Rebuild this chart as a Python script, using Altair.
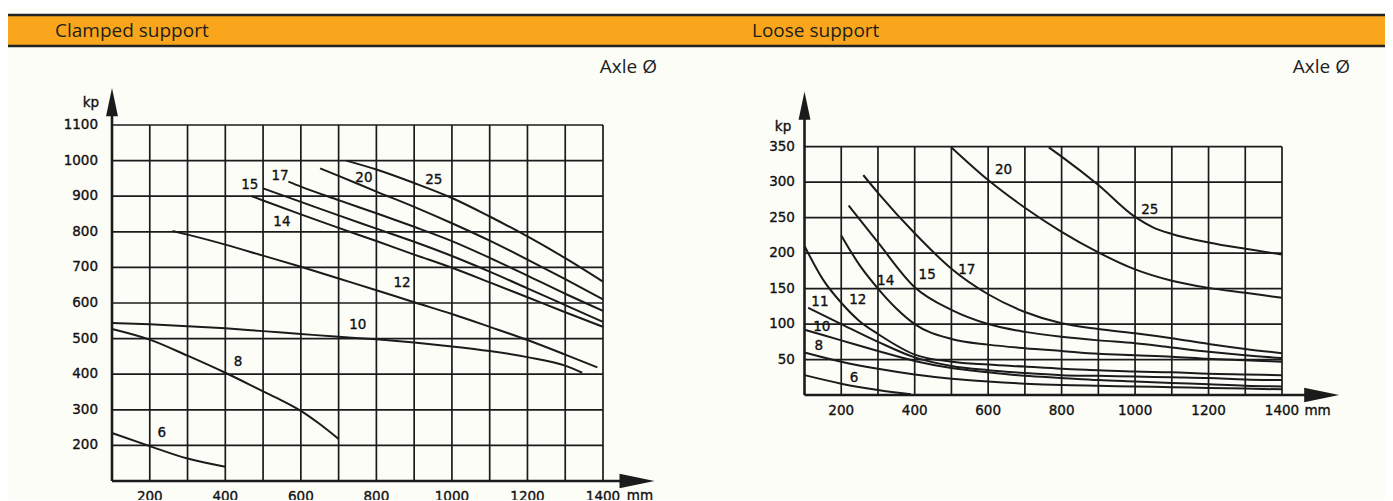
import altair as alt
import pandas as pd

INK = "#1b1b1b"
ORANGE = "#f9a61c"
BG = "#fdfdf8"
TICK_FONT = "DejaVu Sans"

# ---------------- header texts ----------------
HEADER_LEFT = "Clamped support"
HEADER_RIGHT = "Loose support"
AXLE = "Axle Ø"
UNIT_Y = "kp"
UNIT_X = "mm"

# ---------------- left chart (clamped support) ----------------
L_XTICKS = [200, 400, 600, 800, 1000, 1200, 1400]
L_YTICKS = [200, 300, 400, 500, 600, 700, 800, 900, 1000, 1100]
L_XGRID = list(range(200, 1401, 100))
L_YGRID = list(range(200, 1101, 100))

L6_x = [100, 200, 300, 400]
L6_y = [235, 198, 163, 140]
L8_x = [100, 200, 300, 400, 500, 550, 600, 650, 700]
L8_y = [527, 497, 452, 404, 352, 326, 297, 260, 218]
L10_x = [100, 200, 300, 400, 500, 600, 700, 800, 900, 1000, 1100, 1200, 1300, 1345]
L10_y = [544, 540, 535, 529, 521, 513, 505, 498, 489, 478, 465, 448, 424, 404]
L12_x = [260, 300, 400, 500, 600, 700, 800, 900, 1000, 1100, 1200, 1300, 1385]
L12_y = [802, 792, 764, 733, 702, 669, 636, 602, 569, 533, 496, 455, 419]
L14_x = [470, 500, 600, 700, 800, 900, 1000, 1100, 1200, 1300, 1400]
L14_y = [900, 888, 849, 811, 774, 736, 699, 658, 616, 574, 533]
L15_x = [500, 600, 700, 800, 900, 1000, 1100, 1200, 1300, 1400]
L15_y = [922, 884, 846, 809, 772, 732, 688, 641, 594, 547]
L17_x = [567, 600, 700, 800, 900, 1000, 1100, 1200, 1300, 1400]
L17_y = [941, 927, 889, 852, 814, 774, 727, 677, 626, 578]
L20_x = [651, 700, 800, 900, 1000, 1100, 1200, 1300, 1400]
L20_y = [978, 957, 913, 870, 824, 775, 722, 667, 610]
L25_x = [720, 800, 900, 1000, 1100, 1200, 1300, 1400]
L25_y = [1000, 975, 937, 895, 843, 787, 726, 660]

L_LABELS = ["6", "8", "10", "12", "14", "15", "17", "20", "25"]
L_LABEL_X = [232, 434, 751, 868, 550, 465, 545, 767, 952]
L_LABEL_Y = [235, 434, 538, 656, 827, 931, 957, 951, 946]

# ---------------- right chart (loose support) ----------------
R_XTICKS = [200, 400, 600, 800, 1000, 1200, 1400]
R_YTICKS = [50, 100, 150, 200, 250, 300, 350]
R_XGRID = list(range(200, 1401, 100))
R_YGRID = [50, 100, 150, 200, 250, 300, 350]

R6_x = [100, 200, 300, 390]
R6_y = [28, 16, 7, 1]
R8_x = [100, 200, 300, 400, 500, 600, 700, 800, 900, 1000, 1100, 1200, 1300, 1400]
R8_y = [60, 47, 37, 29, 23, 19, 16, 14, 13, 12, 11, 10, 9, 8]
R10_x = [100, 200, 300, 400, 500, 600, 700, 800, 900, 1000, 1100, 1200, 1300, 1400]
R10_y = [92, 77, 62, 48, 38, 32, 27, 24, 21, 19, 17, 15, 13, 12]
R11_x = [110, 200, 300, 400, 500, 600, 700, 800, 900, 1000, 1100, 1200, 1300, 1400]
R11_y = [123, 100, 75, 53, 41, 35, 31, 28, 27, 26, 25, 24, 22, 21]
R12_x = [100, 150, 200, 250, 300, 400, 500, 600, 700, 800, 900, 1000, 1100, 1200, 1300, 1400]
R12_y = [210, 163, 130, 104, 86, 57, 47, 43, 40, 37, 35, 33, 32, 30, 29, 28]
R14_x = [200, 250, 300, 350, 400, 500, 600, 700, 800, 900, 1000, 1100, 1200, 1300, 1400]
R14_y = [225, 183, 150, 122, 100, 79, 71, 66, 62, 58, 56, 54, 51, 49, 47]
R15_x = [220, 300, 400, 500, 600, 700, 800, 900, 1000, 1100, 1200, 1300, 1400]
R15_y = [267, 215, 152, 120, 100, 89, 82, 77, 73, 67, 61, 56, 52]
R17_x = [260, 300, 400, 500, 600, 700, 800, 900, 1000, 1100, 1200, 1300, 1400]
R17_y = [310, 285, 228, 178, 142, 117, 101, 93, 87, 80, 72, 65, 59]
R20_x = [500, 600, 700, 800, 900, 1000, 1100, 1200, 1300, 1400]
R20_y = [349, 303, 264, 230, 201, 177, 161, 151, 144, 137]
R25_x = [765, 800, 900, 1000, 1050, 1100, 1200, 1300, 1400]
R25_y = [349, 336, 296, 251, 236, 227, 215, 206, 198]

R_LABELS = ["6", "8", "10", "11", "12", "14", "15", "17", "20", "25"]
R_LABEL_X = [235, 139, 147, 142, 245, 321, 434, 542, 642, 1040]
R_LABEL_Y = [24, 69, 96, 131, 134, 161, 169, 176, 317, 261]

# ---------------- scales (plot placement) ----------------
def scale(domain, rng):
    return alt.Scale(domain=domain, range=rng, nice=False, zero=False)

XL = ([100, 1400], [104, 595])
YL = ([100, 1100], [473, 117])
XR = ([100, 1400], [796.5, 1274])
YR = ([0, 350], [387, 138.7])

layers = []


def curve(xs, ys, sx, sy, width=2.0):
    return alt.Chart(pd.DataFrame({"x": xs, "y": ys})).mark_line(
        color=INK, strokeWidth=width, interpolate="monotone"
    ).encode(
        x=alt.X("x:Q", scale=scale(*sx), axis=None),
        y=alt.Y("y:Q", scale=scale(*sy), axis=None),
    )


def vgrid(vals, lo, hi, sx, sy, width=1.7):
    df = pd.DataFrame({"v": vals, "a": [lo] * len(vals), "b": [hi] * len(vals)})
    return alt.Chart(df).mark_rule(color=INK, strokeWidth=width).encode(
        x=alt.X("v:Q", scale=scale(*sx), axis=None),
        y=alt.Y("a:Q", scale=scale(*sy), axis=None),
        y2="b:Q",
    )


def hgrid(vals, lo, hi, sx, sy, width=1.7):
    df = pd.DataFrame({"v": vals, "a": [lo] * len(vals), "b": [hi] * len(vals)})
    return alt.Chart(df).mark_rule(color=INK, strokeWidth=width).encode(
        y=alt.Y("v:Q", scale=scale(*sy), axis=None),
        x=alt.X("a:Q", scale=scale(*sx), axis=None),
        x2="b:Q",
    )


def texts(xs, ys, labels, sx, sy, align="center", size=13.5):
    df = pd.DataFrame({"x": xs, "y": ys, "t": labels})
    return alt.Chart(df).mark_text(
        font=TICK_FONT, fontSize=size, color="#111111", align=align, baseline="middle",
        stroke="#111111", strokeWidth=0.35,
    ).encode(
        x=alt.X("x:Q", scale=scale(*sx), axis=None),
        y=alt.Y("y:Q", scale=scale(*sy), axis=None),
        text="t:N",
    )


def arrow(x, y, shape, size, sx, sy):
    return alt.Chart(pd.DataFrame({"x": [x], "y": [y]})).mark_point(
        shape=shape, size=size, filled=True, color=INK, opacity=1, strokeWidth=0
    ).encode(
        x=alt.X("x:Q", scale=scale(*sx), axis=None),
        y=alt.Y("y:Q", scale=scale(*sy), axis=None),
    )


UP = "M0,-1L0.42,1L-0.42,1Z"
RIGHT = "M1,0L-1,0.42L-1,-0.42Z"

# ---------------- header ----------------
one = pd.DataFrame({"t": [HEADER_LEFT]})
layers.append(alt.Chart(one).mark_rect(color=ORANGE).encode(
    x=alt.value(0), x2=alt.value(1377), y=alt.value(7), y2=alt.value(38)))
layers.append(alt.Chart(one).mark_rule(color="#222222", strokeWidth=2.6).encode(
    x=alt.value(0), x2=alt.value(1377), y=alt.value(7)))
layers.append(alt.Chart(one).mark_rule(color="#222222", strokeWidth=2.6).encode(
    x=alt.value(0), x2=alt.value(1377), y=alt.value(38)))
for txt, px, py, al in [(HEADER_LEFT, 47, 23, "left"), (HEADER_RIGHT, 744, 23, "left"),
                        (AXLE, 649, 59, "right"), (AXLE, 1342, 59, "right")]:
    layers.append(alt.Chart(pd.DataFrame({"t": [txt]})).mark_text(
        font="Open Sans", fontSize=19, color="#1e1e1e", align=al, baseline="middle"
    ).encode(x=alt.value(px), y=alt.value(py), text="t:N"))

# ---------------- left chart ----------------
layers.append(vgrid(L_XGRID, 100, 1100, XL, YL))
layers.append(hgrid(L_YGRID, 100, 1400, XL, YL))
layers.append(vgrid([100], 100, 1130, XL, YL, width=2.6))
layers.append(hgrid([100], 100, 1448, XL, YL, width=2.6))
layers.append(arrow(100, 1164, UP, 800, XL, YL))
layers.append(arrow(1490, 100, RIGHT, 1225, XL, YL))
for xs, ys in [(L6_x, L6_y), (L8_x, L8_y), (L10_x, L10_y), (L12_x, L12_y), (L14_x, L14_y),
               (L15_x, L15_y), (L17_x, L17_y), (L20_x, L20_y), (L25_x, L25_y)]:
    layers.append(curve(xs, ys, XL, YL))
layers.append(texts([63] * len(L_YTICKS), L_YTICKS, [str(v) for v in L_YTICKS], XL, YL, align="right"))
layers.append(texts(L_XTICKS, [56] * len(L_XTICKS), [str(v) for v in L_XTICKS], XL, YL))
layers.append(texts([44], [1162], [UNIT_Y], XL, YL))
layers.append(texts([1498], [58], [UNIT_X], XL, YL))
layers.append(texts(L_LABEL_X, L_LABEL_Y, L_LABELS, XL, YL))

# ---------------- right chart ----------------
layers.append(vgrid(R_XGRID, 0, 350, XR, YR))
layers.append(hgrid(R_YGRID, 100, 1400, XR, YR))
layers.append(vgrid([100], 0, 392, XR, YR, width=2.6))
layers.append(hgrid([0], 100, 1465, XR, YR, width=2.6))
layers.append(arrow(100, 408, UP, 800, XR, YR))
layers.append(arrow(1508, 0, RIGHT, 1225, XR, YR))
for xs, ys in [(R6_x, R6_y), (R8_x, R8_y), (R10_x, R10_y), (R11_x, R11_y), (R12_x, R12_y),
               (R14_x, R14_y), (R15_x, R15_y), (R17_x, R17_y), (R20_x, R20_y), (R25_x, R25_y)]:
    layers.append(curve(xs, ys, XR, YR))
layers.append(texts([74] * len(R_YTICKS), R_YTICKS, [str(v) for v in R_YTICKS], XR, YR, align="right"))
layers.append(texts(R_XTICKS, [-22.5] * len(R_XTICKS), [str(v) for v in R_XTICKS], XR, YR))
layers.append(texts([41.5], [378], [UNIT_Y], XR, YR))
layers.append(texts([1497], [-22.5], [UNIT_X], XR, YR))
layers.append(texts(R_LABEL_X, R_LABEL_Y, R_LABELS, XR, YR))

chart = alt.layer(*layers).resolve_scale(x="independent", y="independent").properties(
    width=1377,
    height=492,
    autosize=alt.AutoSizeParams(type="none"),
    padding=0,
    background=BG,
).configure_view(stroke=None)

chart.save("out.html", embed_options={"renderer": "svg", "actions": False})
